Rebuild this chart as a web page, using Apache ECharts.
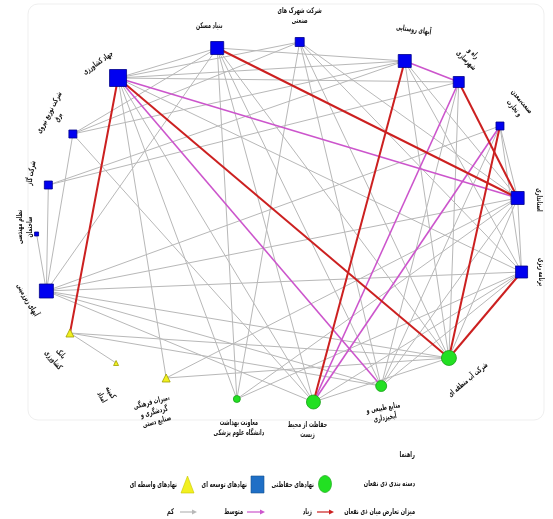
<!DOCTYPE html>
<html>
<head>
<meta charset="utf-8">
<script src="https://cdn.jsdelivr.net/npm/echarts@6/dist/echarts.min.js"></script>
<style>
html,body{margin:0;padding:0;background:#fff;}
#chart{width:553px;height:519px;}
</style>
</head>
<body>
<div id="chart"></div>
<script>
// ---- DATA ----
const nodeNames = [
  'جهاد کشاورزی', 'بنیاد مسکن', 'شرکت شهرک های\nصنعتی', 'آبهای روستایی', 'راه و\nشهرسازی',
  'صنعت،معدن\nو تجارت', 'استانداری', 'برنامه ریزی', 'شرکت آب منطقه ای', 'منابع طبیعی و\nآبخیزداری',
  'حفاظت از محیط\nزیست', 'معاونت بهداشت\nدانشگاه علوم پزشکی', 'میراث فرهنگی،\nگردشگری و\nصنایع دستی', 'کمیته\nامداد', 'بانک\nکشاورزی',
  'آبهای زیرزمینی', 'نظام مهندسی\nساختمان', 'شرکت گاز', 'شرکت توزیع نیروی\nبرق'
];
// layout plane position of each stakeholder
const nodeX = [-67.2, -26.8, 6.8, 49.6, 71.6, 88.4, 95.6, 97.2, 67.6, 40, 12.4, -18.8, -47.6, -68, -86.8, -96.4, -100.4, -95.6, -85.6];
const nodeY = [72, 87, 90, 80.5, 70, 48, 12, -25, -68, -82, -90, -88.5, -78, -70.5, -55.5, -34.5, -6, 18.5, 44];
// 0 = protective (circle), 1 = development (square), 2 = intermediary (triangle)
const nodeType = [1, 1, 1, 1, 1, 1, 1, 1, 0, 0, 0, 0, 2, 2, 2, 1, 1, 1, 1];
const nodeWeight = [17, 13, 9, 13, 11, 8, 13, 12, 15, 11, 14, 7, 8, 5, 8, 14, 4, 8, 8];

const highConflict = [[0, 8], [0, 14], [1, 6], [3, 10], [4, 6], [5, 8], [7, 8]];
const mediumConflict = [[0, 6], [0, 9], [3, 4], [4, 10], [5, 10]];
const lowConflict = [
  [0, 1], [0, 2], [0, 3], [0, 4], [0, 7], [0, 10], [0, 11], [0, 12],
  [1, 3], [1, 9], [1, 10], [1, 11], [1, 15], [1, 18], [1, 8],
  [2, 6], [2, 8], [2, 9], [2, 11], [2, 18], [2, 7],
  [3, 7], [3, 8], [3, 17], [3, 18], [3, 6],
  [4, 17], [4, 8], [4, 9],
  [5, 15], [5, 7], [5, 9], [5, 6],
  [6, 7], [6, 8], [6, 9], [6, 11], [6, 15], [6, 12],
  [7, 9], [7, 10], [7, 15], [7, 11],
  [8, 12], [8, 14], [8, 15], [8, 10],
  [9, 14], [9, 15],
  [10, 15], [10, 18],
  [13, 14],
  [15, 16], [15, 17], [15, 18]
];

const typeNames = ['نهادهای حفاظتی', 'نهادهای توسعه ای', 'نهادهای واسطه ای'];
const levelNames = ['زیاد', 'متوسط', 'کم'];
const legendTitle = 'راهنما';
const typeTitle = 'دسته بندی ذی نفعان';
const levelTitle = 'میزان تعارض میان ذی نفعان';

// ---- STYLE ----
const FONT = 'DejaVu Sans';
const typeSymbol = ['circle', 'rect', 'triangle'];
const typeFill = ['#22e022', '#0000f0', '#f2f020'];
const typeBorder = ['#18a018', '#00008a', '#a0a000'];
const levelColor = ['#cc2020', '#cc55cc', '#b8b8b8'];
const levelWidth = [2, 1.6, 1];
const labelOffset = [
  [-20, -15], [-8, -22], [0, -26], [9, -31], [11, -25],
  [18, -21], [21, 2], [19, 0], [19, 22], [3, 27],
  [-6, 28], [2, 29], [-12, 34], [-10, 32], [-13, 24],
  [-19, 9], [-12, -7], [-17, -12], [-19, -19]
];
const labelRotate = [35, 0, 0, -8, -45, -50, -90, -90, 40, 10, 0, 0, 15, -60, -50, -60, 90, 80, 62];

const nodes = nodeNames.map((n, i) => ({
  name: 'n' + i,
  value: [nodeX[i], nodeY[i]],
  symbol: typeSymbol[nodeType[i]],
  symbolSize: nodeWeight[i],
  itemStyle: { color: typeFill[nodeType[i]], borderColor: typeBorder[nodeType[i]], borderWidth: 0.8 }
}));

const links = [];
[lowConflict, mediumConflict, highConflict].forEach((arr, k) => {
  const lvl = 2 - k;
  arr.forEach(e => links.push({
    source: 'n' + e[0], target: 'n' + e[1],
    lineStyle: { color: levelColor[lvl], width: levelWidth[lvl], opacity: 1, curveness: 0 }
  }));
});

const g = [];
g.push({ type: 'rect', shape: { x: 28, y: 4, width: 516, height: 416, r: 10 }, style: { fill: 'none', stroke: '#efefef', lineWidth: 1 }, z: -1 });
const txt = (x, y, s, align, rot, size, sx) => ({
  type: 'text', x: x, y: y, rotation: (rot || 0) * Math.PI / 180, scaleX: sx || 0.6,
  style: { text: s, fill: '#151515', font: 'bold ' + (size || 8) + 'px ' + FONT, align: align || 'right', verticalAlign: 'middle', lineHeight: 10 }
});
const ltxt = (x, y, s) => txt(x, y, s, 'right', 0, 8, 0.63);
g.push(ltxt(415, 455, legendTitle));
g.push(ltxt(415, 484, typeTitle));
g.push(ltxt(415, 512, levelTitle));
g.push({ type: 'ellipse', shape: { cx: 325, cy: 484, rx: 6.5, ry: 8.5 }, style: { fill: '#22e022', stroke: '#18a018', lineWidth: 0.6 } });
g.push(ltxt(314, 485, typeNames[0]));
g.push({ type: 'rect', shape: { x: 251, y: 476, width: 13, height: 17 }, style: { fill: '#1f6fc6', stroke: '#16508f', lineWidth: 0.6 } });
g.push(ltxt(247, 485, typeNames[1]));
g.push({ type: 'polygon', shape: { points: [[187.5, 476], [181, 493], [194, 493]] }, style: { fill: '#f2f020', stroke: '#c8c800', lineWidth: 0.6 } });
g.push(ltxt(177, 485, typeNames[2]));
const arrow = (x1, x2, y, c) => {
  g.push({ type: 'line', shape: { x1: x1, y1: y, x2: x2 - 4, y2: y }, style: { stroke: c, lineWidth: 1.2 } });
  g.push({ type: 'polygon', shape: { points: [[x2, y], [x2 - 5, y - 2.5], [x2 - 5, y + 2.5]] }, style: { fill: c } });
};
arrow(317, 334, 512, '#cc2020');
g.push(ltxt(312, 512, levelNames[0]));
arrow(247, 265, 512, '#cc55cc');
g.push(ltxt(243, 512, levelNames[1]));
arrow(180, 197, 512, '#b8b8b8');
g.push(ltxt(174, 512, levelNames[2]));

const chart = echarts.init(document.getElementById('chart'), null, { renderer: 'canvas' });
chart.setOption({
  backgroundColor: '#fff',
  animation: false,
  grid: { left: 13, top: 2, width: 550, height: 440 },
  xAxis: { type: 'value', min: -110, max: 110, show: false },
  yAxis: { type: 'value', min: -110, max: 110, show: false },
  series: [{
    type: 'graph',
    coordinateSystem: 'cartesian2d',
    layout: 'none',
    data: nodes,
    links: links,
    label: { show: false },
    edgeSymbol: ['none', 'none'],
    emphasis: { disabled: true },
    z: 2
  }]
});

nodeNames.forEach((n, i) => {
  const p = chart.convertToPixel({ xAxisIndex: 0, yAxisIndex: 0 }, [nodeX[i], nodeY[i]]);
  g.push(txt(p[0] + labelOffset[i][0], p[1] + labelOffset[i][1], n, 'center', labelRotate[i]));
});
chart.setOption({ graphic: g });
</script>
</body>
</html>
